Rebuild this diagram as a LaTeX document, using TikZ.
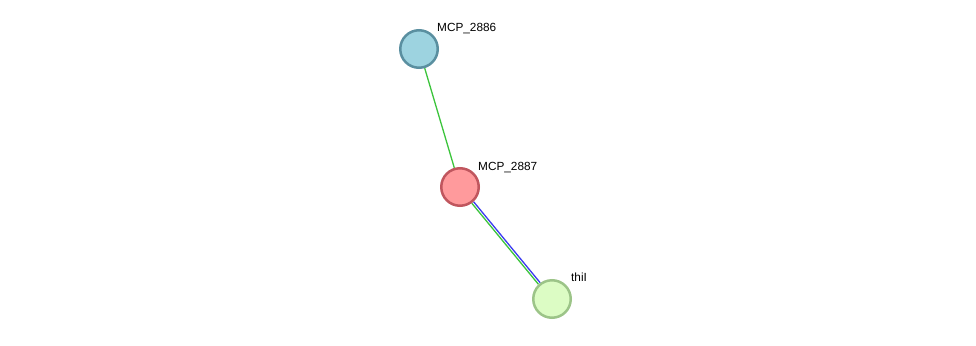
\documentclass[tikz,border=0pt]{standalone}
\usepackage{fontspec}
\setmainfont{Liberation Sans}
\usepackage{xcolor}
\usetikzlibrary{positioning,backgrounds}
\definecolor{cyanfill}{HTML}{9DD3E0}
\definecolor{cyanline}{HTML}{5A8FA0}
\definecolor{redfill}{HTML}{FF9A9C}
\definecolor{redline}{HTML}{C0565E}
\definecolor{greenfill}{HTML}{DCFCC4}
\definecolor{greenline}{HTML}{9CC488}
\definecolor{edgegreen}{HTML}{3CC43C}
\definecolor{edgeblue}{HTML}{3A3AF0}

\begin{document}
\begin{tikzpicture}[
  x=1pt, y=-1pt,
  protein/.style={circle, line width=2.5pt, minimum size=37.5pt, inner sep=0pt},
  lbl/.style={anchor=base west, inner sep=0pt, font=\fontsize{11.8}{14}\selectfont},
  edge/.style={line width=1.3pt}
]
  \useasboundingbox (0,0) rectangle (976,345);
  \node[protein, draw=cyanline, fill=cyanfill]   (n2886) at (419,49)  {};
  \node[protein, draw=redline, fill=redfill]     (n2887) at (460,187) {};
  \node[protein, draw=greenline, fill=greenfill] (thiI)  at (552,299) {};

  \node[lbl] (l2886) at (437,32)  {MCP\_2886};
  \node[lbl] (l2887) at (478,170) {MCP\_2887};
  \node[lbl] (lthiI) at (571,281) {thiI};

  \begin{scope}[on background layer]
    \draw[edge, edgegreen] (n2886) -- (n2887);
    \draw[edge, edgeblue, transform canvas={xshift=0.9pt, yshift=0.75pt}] (n2887) -- (thiI);
    \draw[edge, edgegreen, transform canvas={xshift=-0.9pt, yshift=-0.75pt}] (n2887) -- (thiI);
  \end{scope}
\end{tikzpicture}
\end{document}
